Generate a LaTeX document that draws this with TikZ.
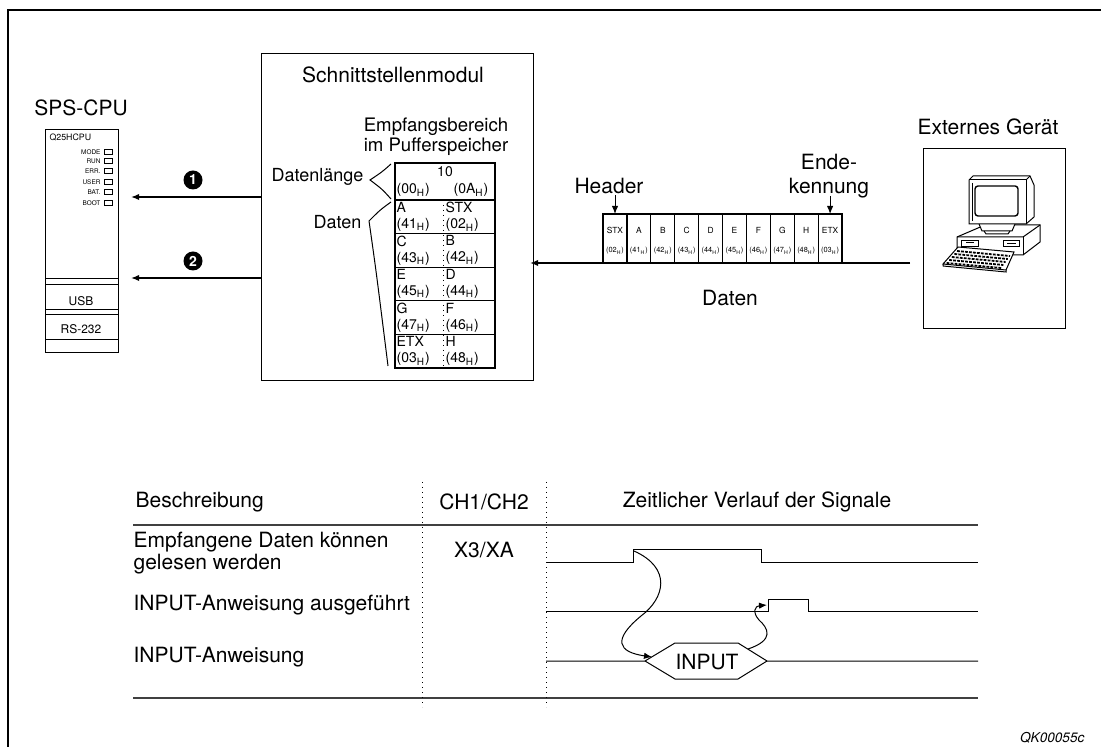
\documentclass[tikz,border=0pt]{standalone}
\usepackage{fontspec}
\setmainfont{TeX Gyre Heros}
\usetikzlibrary{arrows.meta}

\newcommand{\hx}{\textsubscript{H}}

\tikzset{
	lbl/.style = {font=\fontsize{10.5}{12}\selectfont, inner sep=0pt},
	small lbl/.style = {font=\fontsize{9}{10}\selectfont, inner sep=0pt},
	tbl/.style = {font=\fontsize{7}{8}\selectfont, inner sep=0pt, align=left},
	ftxt/.style = {font=\fontsize{4.2}{5}\selectfont, inner sep=0pt},
	fcell/.style = {draw, minimum width=11.95pt, minimum height=24.5pt, inner sep=0pt, outer sep=0pt},
	cputxt/.style = {font=\fontsize{3.2}{4}\selectfont, inner sep=0pt},
	num/.style = {circle, fill=black, text=white, inner sep=0pt, minimum size=9.5pt, font=\bfseries\fontsize{7}{7}\selectfont},
	arr/.style = {-{Latex[length=4pt, width=3.2pt]}},
	sig/.style = {line width=0.5pt},
	rule/.style = {line width=1.1pt, black!75},
}

\begin{document}
\begin{tikzpicture}[x=0.5pt, y=-0.5pt, line width=0.6pt]
	\useasboundingbox (0,0) rectangle (1101,747);

	% frame
	\draw[line width=0.7pt] (8,747) -- (8,10) -- (1101,10);

	% --- SPS-CPU ---
	\node[lbl] (cpulbl) at (81,108) {SPS-CPU};
	\node[draw, anchor=north west, minimum width=36.5pt, minimum height=111.5pt, inner sep=0pt] (cpu) at (45,129) {};
	\node[cputxt, font=\fontsize{4.4}{5}\selectfont, anchor=west] (cputype) at (49,137) {Q25HCPU};
	\foreach \t/\y in {MODE/152, RUN/161, ERR./171, USER/182, BAT./192, BOOT/203} {
		\node[cputxt, anchor=east] at (101,\y) {\t};
		\draw[line width=0.5pt] (104,{\y-2.3}) rectangle (112,{\y+2.3});
	}
	\begin{scope}[line width=0.5pt]
		\draw (cpu.west |- 0,279) -- (cpu.east |- 0,279);
		\draw (cpu.west |- 0,285) -- (cpu.east |- 0,285);
		\draw (cpu.west |- 0,310) -- (cpu.east |- 0,310);
		\draw (cpu.west |- 0,315) -- (cpu.east |- 0,315);
		\draw (cpu.west |- 0,340) -- (cpu.east |- 0,340);
	\end{scope}
	\node[cputxt, font=\fontsize{6}{7}\selectfont] (usb) at (81,301) {USB};
	\node[cputxt, font=\fontsize{6}{7}\selectfont] (rs) at (81,329) {RS-232};

	% --- Schnittstellenmodul ---
	\node[draw, anchor=north west, minimum width=136pt, minimum height=163.5pt, inner sep=0pt] (modul) at (261,53) {};
	\node[lbl] (modlbl) at (393,75) {Schnittstellenmodul};
	\node[small lbl, align=center, font=\fontsize{9.3}{8.4}\selectfont] (puffer) at (436,137) {Empfangsbereich\\im Pufferspeicher};

	% buffer table
	\draw (395,163) rectangle (495,368);
	\draw (395,200) -- (495,200);
	\node[tbl] (len) at (445,172) {10};
	\node[tbl, anchor=west] (lenhi) at (396,190) {(00\hx)};
	\node[tbl, anchor=west] (lenlo) at (453,190) {(0A\hx)};
	\foreach \l/\lh/\r/\rh [count=\i] in {A/41/STX/02, C/43/B/42, E/45/D/44, G/47/F/46, ETX/03/H/48} {
		\draw (395,{200+33.6*\i}) -- (495,{200+33.6*\i});
		\node[tbl, anchor=north west] at (396,{200+33.6*(\i-1)+1.5}) {\l\\(\lh\hx)};
		\node[tbl, anchor=north west] at (445,{200+33.6*(\i-1)+1.5}) {\r\\(\rh\hx)};
	}
	\draw[dotted, line width=0.5pt] (443,200) -- (443,368);

	% braces
	\node[small lbl, anchor=east] (lenlbl) at (364,177) {Datenlänge};
	\node[small lbl, anchor=east] (datlbl) at (362,222) {Daten};
	\draw[line width=0.5pt] (391,164) .. controls (382,172) .. (370,180) .. controls (382,189) .. (391,199);
	\draw[line width=0.5pt] (391,202) .. controls (380,210) .. (369,221) .. controls (376,270) .. (388,366);

	% arrows to the CPU
	\coordinate (a1) at (0,197);
	\coordinate (a2) at (0,278);
	\draw[arr, shorten >=6pt] (modul.west |- a1) -- (cpu.east |- a1);
	\draw[arr, shorten >=6pt] (modul.west |- a2) -- (cpu.east |- a2);
	\node[num] (n1) at (193,180) {1};
	\node[num] (n2) at (193,261) {2};

	% --- data frame ---
	\foreach \c/\h [count=\i from 0] in {STX/02, A/41, B/42, C/43, D/44, E/45, F/46, G/47, H/48, ETX/03} {
		\node[fcell] (f\i) at ({615+23.9*\i},238.5) {};
		\node[ftxt] at ({615+23.9*\i},230) {\c};
		\node[ftxt, font=\fontsize{3.7}{4}\selectfont] at ({615+23.9*\i},251) {(\h\hx)};
	}
	\node[lbl] (hdr) at (609,186) {Header};
	\node[lbl, align=center] (endk) at (829,176) {Ende-\\kennung};
	\draw[arr, line width=0.5pt] (f0.north |- 0,195) -- (f0.north);
	\draw[arr, line width=0.5pt] (f9.north |- 0,196) -- (f9.north);

	% --- Externes Geraet ---
	\node[lbl] (extlbl) at (988,127) {Externes Gerät};
	\node[draw, anchor=north west, minimum width=71pt, minimum height=90pt, inner sep=0pt] (ext) at (923,148) {};
	\coordinate (dline) at (0,263);
	\draw[arr, shorten <=6.5pt, shorten >=-2pt] (ext.west |- dline) -- (modul.east |- dline);
	\node[lbl] (datlbl2) at (730,298) {Daten};

	% computer
	\begin{scope}[line width=0.5pt]
		% base unit
		\draw (957,237) -- (985,225) -- (1040,225) -- (1040,242) -- (1023,255) -- (957,255) -- cycle;
		\draw (957,237) -- (1023,237) -- (1040,225);
		\draw (1023,237) -- (1023,255);
		\draw (961,241) rectangle (978,247);
		\draw (1003,241) rectangle (1019,247);
		\draw (966,243) -- (974,243);
		\draw (1007,244) -- (1016,244);
		% stand
		\draw[fill=white] (979,224) -- (982,231) -- (1012,231) -- (1015,224);
		\draw (984,231) -- (986,234) -- (1008,234) -- (1010,231);
		% monitor
		\draw[fill=white] (969,180) -- (973,176) -- (1030,176) -- (1034,185) -- (1034,217) -- (1026,224) -- (969,224) -- cycle;
		\draw (969,180) -- (1026,180) -- (1026,224);
		\draw (1026,180) -- (1030,176);
		\draw[line width=0.7pt, rounded corners=1.5pt] (975,186) rectangle (1018,216);
		\draw (972,183) -- (972,221);
		% keyboard
		\draw[fill=white] (958,247) -- (1014,252) -- (1006,270) -- (943,264) -- cycle;
		\draw (943,264) -- (943,266) -- (1006,272) -- (1006,270);
		\foreach \k in {0,...,4} {
			\draw[dash pattern=on 1.4pt off 0.6pt, line width=0.9pt]
				({957-2.6*\k},{251+3*\k}) -- ({1010-2.2*\k},{256+3*\k});
		}
	\end{scope}

	% --- timing table ---
	\draw[rule] (133,525) -- (978,525);
	\draw[rule] (133,698) -- (978,698);
	\draw[dotted, line width=0.5pt] (422,482) -- (422,707);
	\draw[dotted, line width=0.5pt] (546,482) -- (546,707);

	\node[lbl, anchor=west] (beschr) at (135,502) {Beschreibung};
	\node[lbl] (chan) at (484,502) {CH1/CH2};
	\node[lbl] (verlauf) at (757,502) {Zeitlicher Verlauf der Signale};

	\node[lbl, anchor=west, align=left, font=\fontsize{10.5}{11}\selectfont] (empf) at (133,553) {Empfangene Daten können\\gelesen werden};
	\node[lbl, anchor=west] (ausg) at (133,605) {INPUT-Anweisung ausgeführt};
	\node[lbl, anchor=west] (anw) at (133,657) {INPUT-Anweisung};
	\node[lbl] (x3) at (484,550) {X3/XA};

	% signals
	\coordinate (rise1) at (634,551);
	\coordinate (rise2) at (767,605);
	\coordinate (hexW) at (652,657);
	\coordinate (hexE) at (748,649);
	\draw[sig] (546,562) -- (633,562) -- (633,549) -- (761,549) -- (761,562) -- (978,562);
	\draw[sig] (546,611) -- (768,611) -- (768,599) -- (808,599) -- (808,611) -- (978,611);
	\draw[sig] (546,661) -- (645,661) -- (675,643) -- (738,643) -- (767,661) -- (978,661);
	\draw[sig] (645,661) -- (675,679) -- (738,679) -- (767,661);
	\node[lbl] (inp) at (707,662) {INPUT};

	\draw[arr, line width=0.5pt] (rise1) .. controls (672,568) and (665,598) .. (641,616)
		.. controls (612,640) and (618,652) .. (hexW);
	\draw[arr, line width=0.5pt] (hexE) .. controls (775,640) and (768,628) .. (759,620)
		.. controls (752,612) and (755,606) .. (rise2);

	\node[lbl, font=\itshape\fontsize{6.8}{8}\selectfont, anchor=east] (qk) at (1085,738) {QK00055c};
\end{tikzpicture}
\end{document}
